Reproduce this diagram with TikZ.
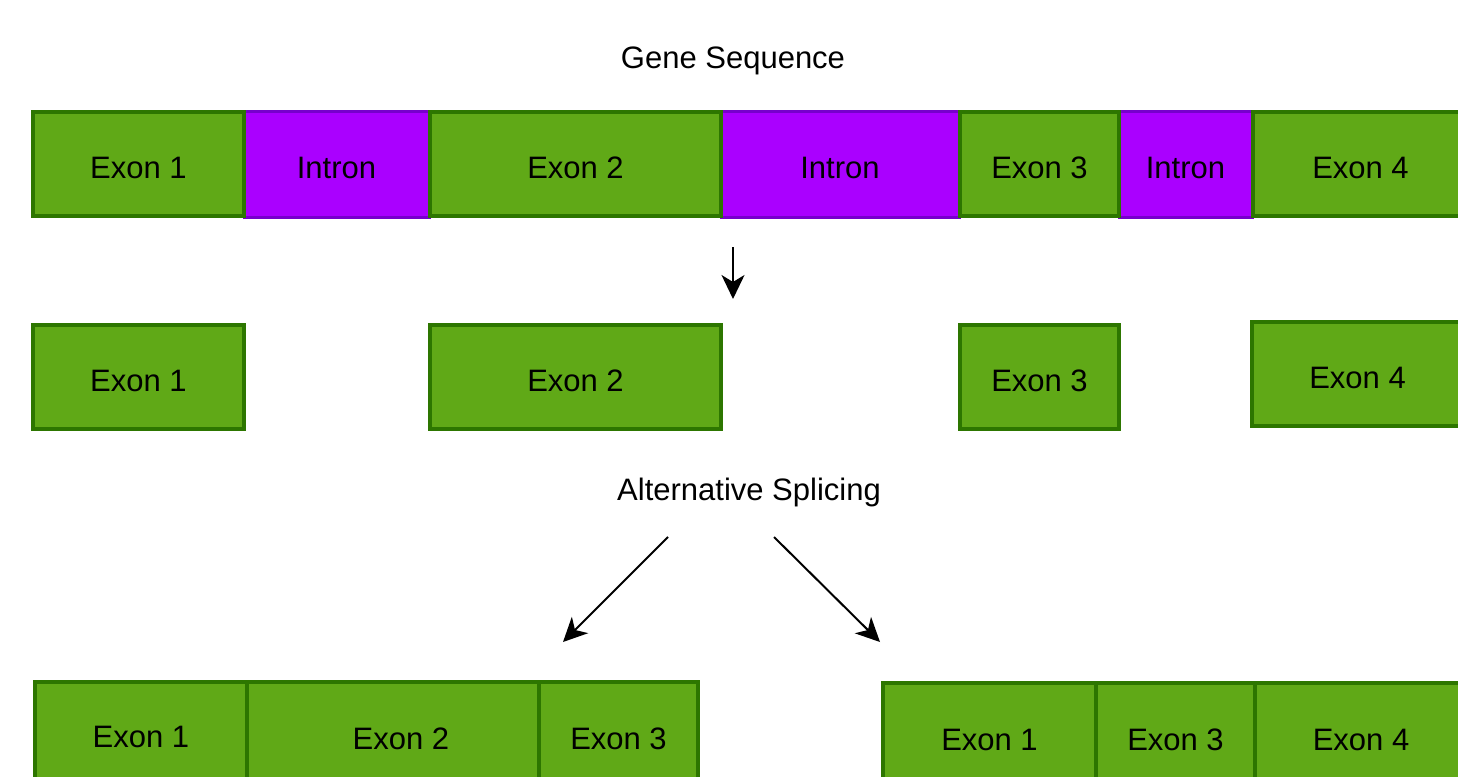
\documentclass[tikz,border=0pt]{standalone}
\usepackage{fontspec}
\setmainfont{Liberation Sans}
\usetikzlibrary{arrows.meta}
\definecolor{exonfill}{HTML}{60A917}
\definecolor{exonline}{HTML}{2D7600}
\definecolor{intronfill}{HTML}{AA00FF}
\definecolor{intronline}{HTML}{7700CC}
\tikzset{
  base/.style={rectangle, inner sep=0pt, outer sep=0pt, anchor=north west,
    font=\fontsize{31}{37}\selectfont, text=black, text height=28pt, text depth=0pt},
  exon/.style={base, fill=exonfill, draw=exonline, line width=4pt},
  intron/.style={base, fill=intronfill, draw=intronline, line width=3pt},
  lbl/.style={font=\fontsize{31}{37}\selectfont, text=black, inner sep=0pt, text height=28pt, text depth=0pt},
  arr/.style={line width=2pt, -{Stealth[length=24pt,width=23pt,inset=7pt]}}
}
\begin{document}
\begin{tikzpicture}[x=1pt,y=-1pt]
\useasboundingbox (0,0) rectangle (1458,776);
\clip (0,0) rectangle (1458,776);
\fill[white] (0,0) rectangle (1458,776);
% title
\node[lbl] (title) at (733,55) {Gene Sequence};
% top row
\node[intron, minimum width=185pt, minimum height=106pt] (i1) at (244,111) {Intron};
\node[intron, minimum width=238pt, minimum height=106pt] (i2) at (721,111) {Intron};
\node[intron, minimum width=133pt, minimum height=106pt] (i3) at (1119,111) {Intron};
\node[exon, minimum width=211pt, minimum height=104pt] (e1) at (33,112) {Exon 1};
\node[exon, minimum width=291pt, minimum height=104pt] (e2) at (430,112) {Exon 2};
\node[exon, minimum width=159pt, minimum height=104pt] (e3) at (960,112) {Exon 3};
\node[exon, minimum width=215pt, minimum height=104pt] (e4) at (1253,112) {Exon 4};
% arrow down
\coordinate (a1s) at (733,247);
\coordinate (a1e) at (733,299);
\draw[arr] (a1s) -- (a1e);
% second row
\node[exon, minimum width=211pt, minimum height=104pt] (s1) at (33,325) {Exon 1};
\node[exon, minimum width=291pt, minimum height=104pt] (s2) at (430,325) {Exon 2};
\node[exon, minimum width=159pt, minimum height=104pt] (s3) at (960,325) {Exon 3};
\node[exon, minimum width=211pt, minimum height=104pt] (s4) at (1252,322) {Exon 4};
% alternative splicing
\node[lbl] (alt) at (749,486) {Alternative Splicing};
\coordinate (l1s) at (668,537);
\coordinate (l1e) at (563,642);
\coordinate (r1s) at (774,537);
\coordinate (r1e) at (880,642);
\draw[arr] (l1s) -- (l1e);
\draw[arr] (r1s) -- (r1e);
% bottom left
\node[exon, minimum width=212pt, minimum height=100pt, text height=31pt] (b1) at (35,682) {Exon 1};
\node[exon, minimum width=292pt, minimum height=106pt] (b2) at (247,682) {\hspace*{16pt}Exon 2};
\node[exon, minimum width=159pt, minimum height=106pt] (b3) at (539,682) {Exon 3};
% bottom right
\node[exon, minimum width=213pt, minimum height=106pt] (c1) at (883,683) {Exon 1};
\node[exon, minimum width=159pt, minimum height=106pt] (c3) at (1096,683) {Exon 3};
\node[exon, minimum width=212pt, minimum height=106pt] (c4) at (1255,683) {Exon 4};
\end{tikzpicture}
\end{document}
